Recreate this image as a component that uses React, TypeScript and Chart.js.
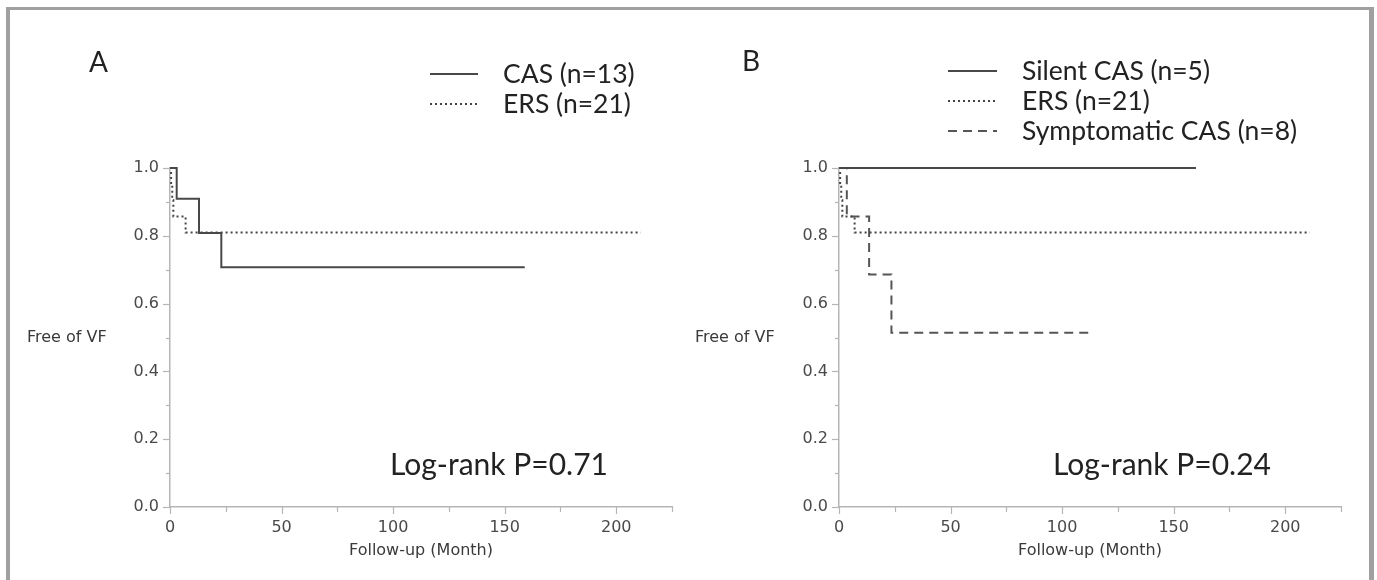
import React, { useEffect, useRef } from 'react';
import { Chart, registerables } from 'chart.js';

Chart.register(...registerables);

// ---------- data ----------
// Panel A
const casMonthsA = [0, 3, 13, 23, 159];
const casSurvA = [1, 0.909, 0.808, 0.707, 0.707];
const ersMonths = [0, 0.5, 1, 1.5, 7, 211];
const ersSurv = [1, 0.952, 0.905, 0.857, 0.81, 0.81];
// Panel B
const silentMonths = [0, 160];
const silentSurv = [1, 1];
const sympMonths = [0, 3.5, 13.5, 23.5, 113];
const sympSurv = [1, 0.857, 0.686, 0.514, 0.514];

const labelsA = ['CAS (n=13)', 'ERS (n=21)'];
const labelsB = ['Silent CAS (n=5)', 'ERS (n=21)', 'Symptomatic CAS (n=8)'];
const pTextA = 'Log-rank P=0.71';
const pTextB = 'Log-rank P=0.24';
const xTitle = 'Follow-up (Month)';
const yTitle = 'Free of VF';
const xMin = 0;
const xMax = 225;
const xStep = 25;
const xLabelStep = 50;
const xLabelMax = 200;
const yMin = 0;
const yMax = 1;
const yStep = 0.1;

const toPoints = (xs: number[], ys: number[]) => xs.map((x, i) => ({ x, y: ys[i] }));

const SOLID: number[] = [];
const DOTTED = [2, 3];
const DASHED = [9, 6];

const lineDs = (label: string, xs: number[], ys: number[], dash: number[], color: string) => ({
  label,
  data: toPoints(xs, ys),
  borderColor: color,
  borderWidth: 2,
  borderDash: dash,
  pointRadius: 0,
  stepped: 'before' as const,
  fill: false,
  clip: false as any,
});

const TEXT_FONT = 'Lato, "Open Sans", sans-serif';
const AXIS_FONT = '"DejaVu Sans", Verdana, sans-serif';

type PanelCfg = {
  letter: string;
  letterX: number;
  letterY: number;
  legendX1: number;
  legendX2: number;
  legendTextX: number;
  legendY: number;
  legendGap: number;
  yTitleX: number;
  pText: string;
  pX: number;
  pY: number;
};

function Panel({ left, width, padLeft, padRight, datasets, cfg }: { left: number; width: number; padLeft: number; padRight: number; datasets: any[]; cfg: PanelCfg }) {
  const ref = useRef<HTMLCanvasElement | null>(null);
  useEffect(() => {
    if (!ref.current) return;
    const yAxisW = 70;
    const xAxisH = 53;
    const plotBottom = 507;
    const plotTop = 168;
    const deco = {
      id: 'deco',
      afterDraw(chart: any) {
        const ctx = chart.ctx;
        const { left: L, top: T, bottom: B } = chart.chartArea;
        ctx.save();
        // tick marks
        ctx.strokeStyle = '#b5b5b5';
        ctx.lineWidth = 1.2;
        ctx.setLineDash([]);
        const xs = chart.scales.x;
        xs.ticks.forEach((t: any) => {
          const px = Math.round(xs.getPixelForValue(t.value)) + 0.5;
          const major = t.value % xLabelStep === 0 && t.value <= xLabelMax;
          const len = major ? 7 : 5;
          ctx.beginPath();
          ctx.moveTo(px, B);
          ctx.lineTo(px, B + len);
          ctx.stroke();
        });
        const ys = chart.scales.y;
        ys.ticks.forEach((t: any) => {
          const py = Math.round(ys.getPixelForValue(t.value)) + 0.5;
          const major = Math.round(t.value * 10) % 2 === 0;
          const len = major ? 7 : 4;
          ctx.beginPath();
          ctx.moveTo(L - len, py);
          ctx.lineTo(L, py);
          ctx.stroke();
        });
        // y title (horizontal)
        ctx.fillStyle = '#3a3a3a';
        ctx.font = `16px ${AXIS_FONT}`;
        ctx.textAlign = 'left';
        ctx.textBaseline = 'middle';
        ctx.fillText(yTitle, cfg.yTitleX, (T + B) / 2);
        // panel letter
        ctx.fillStyle = '#222';
        ctx.font = `28px ${TEXT_FONT}`;
        ctx.fillText(cfg.letter, cfg.letterX, cfg.letterY);
        // legend
        chart.data.datasets.forEach((ds: any, i: number) => {
          const y = cfg.legendY + i * cfg.legendGap;
          ctx.strokeStyle = ds.borderColor;
          ctx.lineWidth = 2;
          ctx.setLineDash(ds.borderDash || []);
          ctx.beginPath();
          ctx.moveTo(cfg.legendX1, y);
          ctx.lineTo(cfg.legendX2, y);
          ctx.stroke();
          ctx.setLineDash([]);
          ctx.fillStyle = '#222';
          ctx.font = `26.5px ${TEXT_FONT}`;
          ctx.fillText(ds.label, cfg.legendTextX, y);
        });
        // log-rank text
        ctx.font = `30px ${TEXT_FONT}`;
        ctx.fillStyle = '#222';
        ctx.fillText(cfg.pText, cfg.pX, cfg.pY);
        ctx.restore();
      },
    };
    const chart = new Chart(ref.current, {
      type: 'line',
      data: { datasets },
      options: {
        animation: false,
        responsive: false,
        maintainAspectRatio: false,
        layout: {
          padding: {
            left: padLeft - yAxisW,
            top: plotTop,
            right: padRight,
            bottom: 580 - plotBottom - xAxisH,
          },
        },
        plugins: {
          legend: { display: false },
          tooltip: { enabled: false },
          title: { display: false },
        },
        scales: {
          x: {
            type: 'linear',
            min: xMin,
            max: xMax,
            afterFit: (axis: any) => {
              axis.height = xAxisH;
            },
            ticks: {
              stepSize: xStep,
              autoSkip: false,
              maxRotation: 0,
              padding: 11,
              color: '#4a4a4a',
              font: { family: AXIS_FONT, size: 16 },
              callback: (v: any) => (v % xLabelStep === 0 && v <= xLabelMax ? String(v) : ''),
            },
            grid: { drawOnChartArea: false, drawTicks: false },
            border: { display: true, color: '#b5b5b5', width: 1.5 },
            title: {
              display: true,
              text: xTitle,
              color: '#3a3a3a',
              font: { family: AXIS_FONT, size: 16 },
              padding: { top: 2, bottom: 0 },
            },
          },
          y: {
            type: 'linear',
            min: yMin,
            max: yMax,
            afterFit: (axis: any) => {
              axis.width = yAxisW;
            },
            ticks: {
              stepSize: yStep,
              autoSkip: false,
              padding: 11,
              color: '#4a4a4a',
              font: { family: AXIS_FONT, size: 16 },
              callback: (v: any) => {
                const r = Math.round(Number(v) * 10);
                return r % 2 === 0 ? (r / 10).toFixed(1) : '';
              },
            },
            grid: { drawOnChartArea: false, drawTicks: false },
            border: { display: true, color: '#b5b5b5', width: 1.5 },
          },
        },
      },
      plugins: [deco],
    } as any);
    return () => chart.destroy();
  }, []);
  return (
    <canvas
      ref={ref}
      width={width}
      height={580}
      style={{ position: 'absolute', left, top: 0, width, height: 580 }}
    />
  );
}

export default function App() {
  const dsA = [
    lineDs(labelsA[0], casMonthsA, casSurvA, SOLID, '#484848'),
    lineDs(labelsA[1], ersMonths, ersSurv, DOTTED, '#444444'),
  ];
  const dsB = [
    lineDs(labelsB[0], silentMonths, silentSurv, SOLID, '#484848'),
    lineDs(labelsB[1], ersMonths, ersSurv, DOTTED, '#444444'),
    lineDs(labelsB[2], sympMonths, sympSurv, DASHED, '#555555'),
  ];
  const cfgA: PanelCfg = {
    letter: 'A', letterX: 89, letterY: 63,
    legendX1: 430, legendX2: 478, legendTextX: 503, legendY: 74, legendGap: 30,
    yTitleX: 27, pText: pTextA, pX: 390, pY: 465,
  };
  const cfgB: PanelCfg = {
    letter: 'B', letterX: 742 - 689, letterY: 62,
    legendX1: 948 - 689, legendX2: 997 - 689, legendTextX: 1022 - 689, legendY: 71, legendGap: 30,
    yTitleX: 695 - 689, pText: pTextB, pX: 1053 - 689, pY: 465,
  };
  return (
    <div style={{ position: 'absolute', left: 0, top: 0, width: 1377, height: 580, overflow: 'hidden', background: '#fff' }}>
      <div
        style={{
          position: 'absolute',
          left: 6,
          top: 7,
          width: 1377 - 6 - 3 - 4 - 5,
          height: 600,
          borderTop: '3px solid #a0a0a0',
          borderLeft: '4px solid #a0a0a0',
          borderRight: '5px solid #a0a0a0',
          boxSizing: 'content-box',
        }}
      />
      <Panel left={0} width={689} padLeft={170} padRight={689 - 672} datasets={dsA} cfg={cfgA} />
      <Panel left={689} width={688} padLeft={839 - 689} padRight={1377 - 1341} datasets={dsB} cfg={cfgB} />
    </div>
  );
}
